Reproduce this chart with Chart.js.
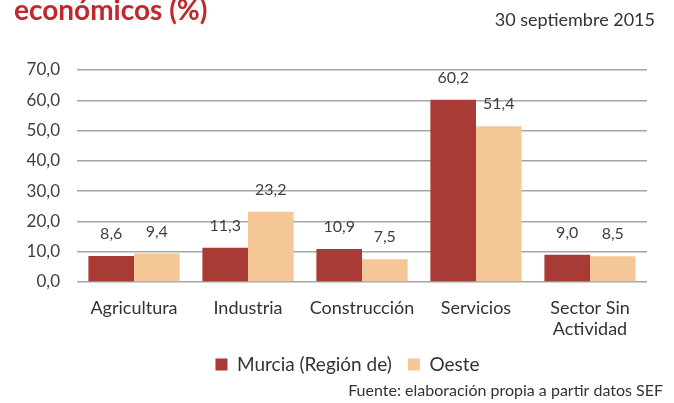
<!DOCTYPE html>
<html lang="es">
  <head>
    <meta charset="UTF-8" />
    <title>Sectores económicos (%)</title>
    <style>
      html, body { margin: 0; padding: 0; background: #fff; }
      .chart-box { width: 674px; height: 403px; position: relative; }
    </style>
  </head>
  <body>
    <div class="chart-box">
      <canvas id="barChart"></canvas>
    </div>

    <script src="https://cdn.jsdelivr.net/npm/chart.js"></script>
    <script>
      // Datos
      const categorias = ['Agricultura', 'Industria', 'Construcción', 'Servicios', ['Sector Sin', 'Actividad']];
      const murcia = [8.6, 11.3, 10.9, 60.2, 9.0];
      const oeste = [9.4, 23.2, 7.5, 51.4, 8.5];
      const series = ['Murcia (Región de)', 'Oeste'];
      const yTicks = [0, 10, 20, 30, 40, 50, 60, 70];

      const titulo = 'económicos (%)';
      const fecha = '30 septiembre 2015';
      const fuente = 'Fuente: elaboración propia a partir datos SEF';

      const FONT = 'Lato, "Open Sans", sans-serif';
      const coma = v => v.toFixed(1).replace('.', ',');

      // Etiquetas de valor encima de cada barra
      const etiquetasBarras = {
        id: 'etiquetasBarras',
        afterDatasetsDraw(chart) {
          const ctx = chart.ctx;
          ctx.save();
          ctx.font = '16px ' + FONT;
          ctx.fillStyle = '#404040';
          ctx.textAlign = 'center';
          ctx.textBaseline = 'bottom';
          chart.data.datasets.forEach((ds, i) => {
            chart.getDatasetMeta(i).data.forEach((bar, j) => {
              ctx.fillText(coma(ds.data[j]), bar.x, bar.y - 14);
            });
          });
          ctx.restore();
        }
      };

      // Título, fecha y fuente
      const textosExtra = {
        id: 'textosExtra',
        afterDraw(chart) {
          const ctx = chart.ctx;
          ctx.save();
          ctx.textBaseline = 'alphabetic';
          ctx.fillStyle = '#c0282d';
          ctx.font = 'bold 28px ' + FONT;
          ctx.textAlign = 'left';
          ctx.fillText(titulo, 14, 20);

          ctx.fillStyle = '#333';
          ctx.font = '18px ' + FONT;
          ctx.textAlign = 'right';
          ctx.fillText(fecha, 655, 26);

          ctx.font = '16px ' + FONT;
          ctx.fillText(fuente, 663, 396);
          ctx.restore();
        }
      };

      // La leyenda del original está algo desplazada a la derecha
      const moverLeyenda = {
        id: 'moverLeyenda',
        afterLayout(chart) {
          if (chart.legend) chart.legend.left += 48;
        }
      };

      const ctxBar = document.getElementById('barChart').getContext('2d');
      new Chart(ctxBar, {
        type: 'bar',
        data: {
          labels: categorias,
          datasets: [
            {
              label: series[0],
              data: murcia,
              backgroundColor: '#a93b36',
              categoryPercentage: 0.8,
              barPercentage: 1.0
            },
            {
              label: series[1],
              data: oeste,
              backgroundColor: '#f5c696',
              categoryPercentage: 0.8,
              barPercentage: 1.0
            }
          ]
        },
        options: {
          responsive: true,
          maintainAspectRatio: false,
          animation: false,
          layout: { padding: { top: 70, right: 27, bottom: 19, left: 0 } },
          scales: {
            x: {
              grid: { display: false, drawTicks: false },
              border: { display: false },
              ticks: { color: '#333', font: { family: FONT, size: 18 }, padding: 15, maxRotation: 0 },
              afterFit: scale => { scale.height = 57; }
            },
            y: {
              min: 0,
              max: 70,
              afterBuildTicks: scale => { scale.ticks = yTicks.map(v => ({ value: v })); },
              grid: { color: '#a5a5a5', lineWidth: 1.5, drawTicks: false },
              border: { display: false },
              ticks: {
                color: '#404040',
                font: { family: FONT, size: 17 },
                padding: 17,
                callback: v => coma(v)
              },
              afterFit: scale => { scale.width = 77; }
            }
          },
          plugins: {
            legend: {
              position: 'bottom',
              labels: {
                color: '#333',
                font: { family: FONT, size: 19 },
                boxWidth: 12,
                boxHeight: 12,
                padding: 16
              }
            },
            tooltip: { enabled: false }
          }
        },
        plugins: [etiquetasBarras, textosExtra, moverLeyenda]
      });
    </script>
  </body>
</html>
